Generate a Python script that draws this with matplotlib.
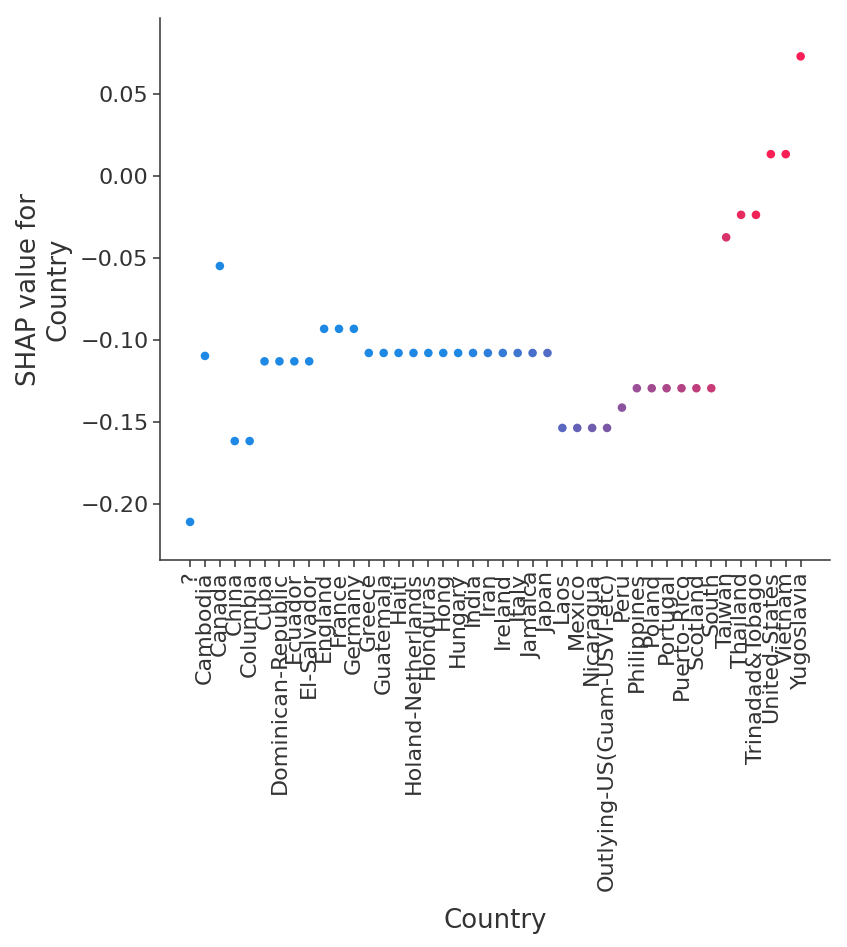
import numpy as np
import matplotlib
matplotlib.use("Agg")
import matplotlib.pyplot as plt
from matplotlib.colors import LinearSegmentedColormap

# categorias (codificadas 0..41) e valores SHAP
countries = ["?", "Cambodia", "Canada", "China", "Columbia", "Cuba",
             "Dominican-Republic", "Ecuador", "El-Salvador", "England",
             "France", "Germany", "Greece", "Guatemala", "Haiti",
             "Holand-Netherlands", "Honduras", "Hong", "Hungary", "India",
             "Iran", "Ireland", "Italy", "Jamaica", "Japan", "Laos",
             "Mexico", "Nicaragua", "Outlying-US(Guam-USVI-etc)", "Peru",
             "Philippines", "Poland", "Portugal", "Puerto-Rico", "Scotland",
             "South", "Taiwan", "Thailand", "Trinadad&Tobago",
             "United-States", "Vietnam", "Yugoslavia"]

shap_values = [-0.2108, -0.1096, -0.0548, -0.1615, -0.1615,
               -0.1129, -0.1129, -0.1129, -0.1129,
               -0.0931, -0.0931, -0.0931,
               -0.1078, -0.1078, -0.1078, -0.1078, -0.1078, -0.1078, -0.1078,
               -0.1078, -0.1078, -0.1078, -0.1078, -0.1078, -0.1078,
               -0.1535, -0.1535, -0.1535, -0.1535,
               -0.1411,
               -0.1293, -0.1293, -0.1293, -0.1293, -0.1293, -0.1293,
               -0.0373, -0.0236, -0.0236, 0.0134, 0.0134, 0.0730]

codes = np.arange(len(countries))
color_vmin, color_vmax = 18, 39

# mapa de cores azul -> roxo -> vermelho (tons)
red_blue = LinearSegmentedColormap.from_list("red_blue", [
    (0.0, "#1E88E5"),
    (0.333, "#5A66C0"),
    (0.476, "#7A58A5"),
    (0.571, "#9A4F98"),
    (0.81, "#C83A76"),
    (0.905, "#E82A5E"),
    (1.0, "#FA1E56"),
])

axis_color = "#333333"

fig = plt.figure(figsize=(8.47, 9.47), dpi=100)
ax = fig.add_axes([0.1889, 0.4085, 0.7910, 0.5725])

ax.scatter(codes, shap_values, c=codes, cmap=red_blue, vmin=color_vmin, vmax=color_vmax,
           s=38, linewidths=0)

ax.set_xlim(-2.02, 42.97)
ax.set_ylim(-0.2341, 0.0964)
ax.set_yticks([0.05, 0.0, -0.05, -0.10, -0.15, -0.20])
ax.set_yticklabels(["0.05", "0.00", "\u22120.05", "\u22120.10", "\u22120.15", "\u22120.20"])
ax.set_xticks(codes)
ax.set_xticklabels(countries, rotation=90, fontsize=16, color=axis_color)

ax.set_xlabel("Country", fontsize=18.7, color=axis_color, labelpad=12)
ax.set_ylabel("SHAP value for\nCountry", fontsize=18.7, color=axis_color, labelpad=6)

ax.spines["right"].set_visible(False)
ax.spines["top"].set_visible(False)
ax.spines["left"].set_color(axis_color)
ax.spines["bottom"].set_color(axis_color)
ax.spines["left"].set_linewidth(1.1)
ax.spines["bottom"].set_linewidth(1.1)
ax.tick_params(color=axis_color, labelcolor=axis_color, length=4.8, width=1.1)
ax.tick_params(axis="y", labelsize=16)

fig.savefig("out.png", dpi=100)
